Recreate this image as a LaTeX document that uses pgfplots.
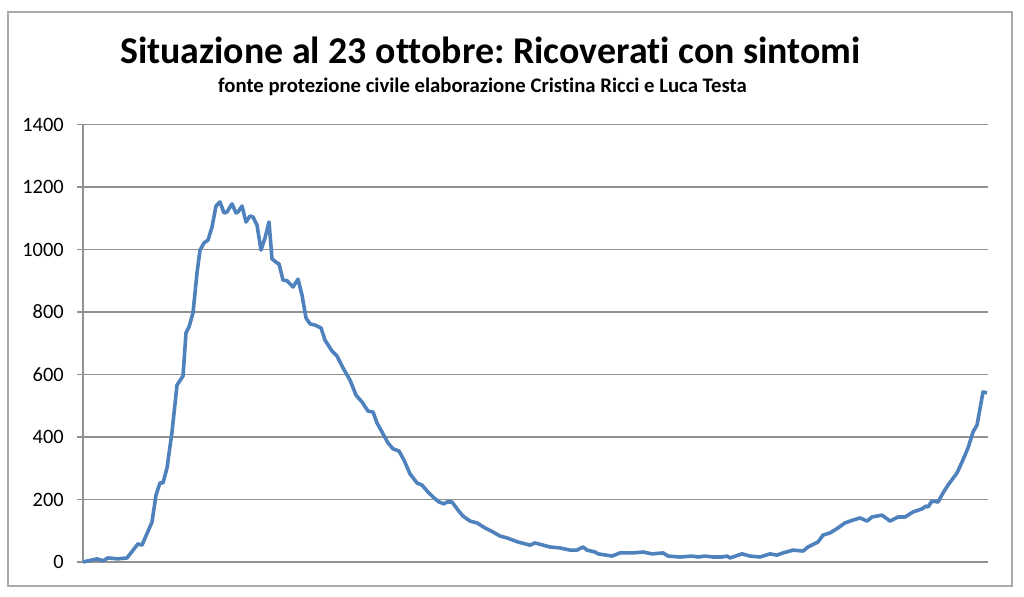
\documentclass[border=0pt]{standalone}
\usepackage{pgfplots}
\pgfplotsset{compat=1.18}
\usepackage{fontspec}
\setmainfont{Carlito}[Ligatures={NoCommon}]
\frenchspacing
\definecolor{linecol}{RGB}{79,129,189}
\definecolor{gridcol}{RGB}{145,145,145}
\definecolor{framecol}{RGB}{170,170,170}
\begin{document}
\begin{tikzpicture}[x=1bp,y=1bp]
\path[use as bounding box] (0,0) rectangle (1024,597);
\draw[framecol, line width=1.2bp] (8,11) rectangle (1012,585);
\node[anchor=base west, inner sep=0pt, font=\fontsize{38}{44}\selectfont\bfseries] at (120,533) {Situazione al 23 ottobre: Ricoverati con sintomi};
\node[anchor=base west, inner sep=0pt, font=\fontsize{20.8}{24}\selectfont\bfseries] at (218,504) {fonte protezione civile elaborazione Cristina Ricci e Luca Testa};
\begin{axis}[
  at={(83bp,35bp)}, anchor=south west,
  scale only axis, width=905bp, height=437.5bp,
  xmin=83, xmax=988, ymin=0, ymax=1400,
  axis x line*=bottom, axis y line*=left,
  axis line style={-, draw=gridcol, line width=1.2bp},
  xtick=\empty,
  ytick={0,200,...,1400},
  ymajorgrids,
  grid style={gridcol, line width=1.2bp},
  tick align=outside, tick pos=left,
  major tick length=6bp,
  tick style={gridcol, line width=1.2bp},
  /pgf/number format/assume math mode=true,
  /pgf/number format/1000 sep={},
  yticklabel style={font=\fontsize{20.5}{23}\selectfont, inner sep=0pt, xshift=-13bp},
  clip=false,
]
\addplot[linecol, line width=3.6bp, line join=round] coordinates {
(83,0)(97,10)(103,4)(108,13)(118,10)(127,13)(138,58)(142,54)(152,128)(156,214)
(160,253)(163,253)(167,301)(172,416)(177,566)(183,595)(186,733)(189,752)(193,797)(197,925)
(200,998)(204,1021)(208,1030)(212,1072)(216,1139)(220,1152)(224,1117)(227,1120)(232,1146)(236,1117)
(238,1120)(242,1139)(246,1088)(250,1107)(253,1104)(257,1078)(261,998)(265,1037)(269,1088)(272,970)
(277,957)(279,954)(283,902)(287,900)(293,880)(298,905)(302,854)(306,781)(310,762)(315,758)
(321,749)(325,710)(332,675)(337,659)(343,621)(350,582)(356,534)(362,512)(368,483)(373,480)
(377,445)(383,410)(388,381)(393,362)(399,355)(404,326)(410,282)(417,253)(422,246)(428,224)
(434,205)(439,192)(444,186)(447,192)(452,192)(458,166)(463,147)(470,131)(477,125)(485,109)
(493,96)(500,83)(507,77)(518,64)(530,54)(535,61)(550,48)(560,45)(570,38)(577,38)
(583,48)(587,38)(595,32)(598,26)(612,19)(620,29)(633,29)(643,32)(652,26)(663,29)
(668,19)(680,16)(692,19)(698,16)(705,19)(713,16)(722,16)(727,19)(730,13)(742,26)
(750,19)(760,16)(770,26)(777,22)(783,29)(793,38)(803,35)(808,48)(818,64)(823,86)
(830,93)(838,109)(845,125)(853,134)(860,141)(867,131)(872,144)(882,150)(890,131)(898,144)
(905,144)(913,160)(922,170)(926,179)(928,176)(932,195)(938,192)(943,221)(948,246)(957,285)
(962,320)(968,365)(973,416)(977,438)(983,544)(987,541)
};
\end{axis}
\end{tikzpicture}
\end{document}
